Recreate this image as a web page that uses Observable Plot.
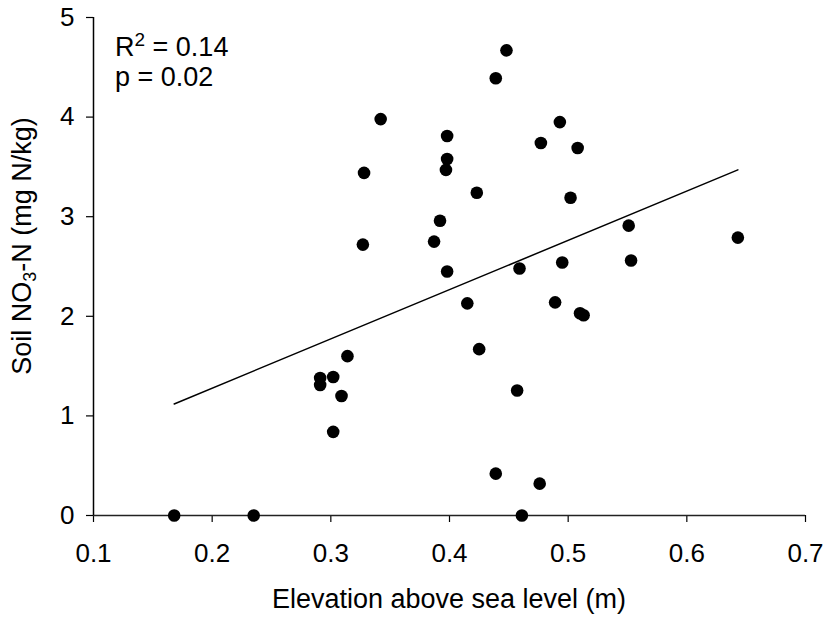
<!DOCTYPE html>
<html>
<head>
<meta charset="utf-8">
<script src="https://cdn.jsdelivr.net/npm/d3@7"></script>
<script src="https://cdn.jsdelivr.net/npm/@observablehq/plot@0.6"></script>
<style>
  html, body { margin: 0; padding: 0; background: #fff; }
  #chart { width: 825px; height: 618px; }
  #chart svg g[aria-label$="tick label"] text { font-size: 26px !important; }
</style>
</head>
<body>
<div id="chart"></div>
<script>
// Elevation above sea level (m)
const elevation = [
  0.168, 0.235, 0.291, 0.291, 0.302, 0.309, 0.302, 0.314,
  0.342, 0.328, 0.327,
  0.448, 0.439, 0.493, 0.398, 0.477, 0.508, 0.398, 0.397,
  0.423, 0.502, 0.392, 0.551, 0.643, 0.387, 0.398, 0.459,
  0.495, 0.553, 0.415, 0.489, 0.510, 0.513,
  0.425, 0.457, 0.439, 0.476, 0.461
];
// Soil NO3-N (mg N/kg)
const nitrate = [
  0.00, 0.00, 1.38, 1.31, 1.39, 1.20, 0.84, 1.60,
  3.98, 3.44, 2.72,
  4.67, 4.39, 3.95, 3.81, 3.74, 3.69, 3.58, 3.47,
  3.24, 3.19, 2.96, 2.91, 2.79, 2.75, 2.45, 2.48,
  2.54, 2.56, 2.13, 2.14, 2.03, 2.01,
  1.67, 1.255, 0.42, 0.32, 0.00
];
// Fitted regression line end points
const fitX = [0.168, 0.643];
const fitY = [1.12, 3.47];

const xTicks = [0.1, 0.2, 0.3, 0.4, 0.5, 0.6, 0.7];
const yTicks = [0, 1, 2, 3, 4, 5];
const xLabel = "Elevation above sea level (m)";
const statR2 = "0.14";
const statP = "0.02";

const points = elevation.map((x, i) => ({x, y: nitrate[i]}));
const fit = fitX.map((x, i) => ({x, y: fitY[i]}));

const font = "'Liberation Sans', Arial, Helvetica, sans-serif";

const chart = Plot.plot({
  width: 825,
  height: 618,
  marginLeft: 93,
  marginRight: 20,
  marginTop: 17,
  marginBottom: 103,
  style: {fontFamily: font, fontSize: "26px", color: "#000", background: "#fff", overflow: "visible"},
  x: {domain: [0.1, 0.7]},
  y: {domain: [0, 5]},
  marks: [
    Plot.axisX({ticks: xTicks, tickSize: 7, tickPadding: 21, tickFormat: d => d.toFixed(1), label: null, fontSize: 26, stroke: "#000", strokeWidth: 1.2}),
    Plot.axisY({ticks: yTicks, tickSize: 7, tickPadding: 12, tickFormat: d => String(d), label: null, fontSize: 26, stroke: "#000", strokeWidth: 1.2}),
    Plot.ruleY([0], {stroke: "#222", strokeWidth: 1.5}),
    Plot.ruleX([0.1], {stroke: "#000", strokeWidth: 1.5}),
    Plot.line(fit, {x: "x", y: "y", stroke: "#000", strokeWidth: 1.5}),
    Plot.dot(points, {x: "x", y: "y", r: 6.3, fill: "#000", stroke: "none"})
  ]
});

const svg = d3.select(chart);
svg.selectAll('g[aria-label$="tick label"]').attr("font-size", 26);
svg.selectAll('g[aria-label$="tick label"] text').style("font-size", "26px");

// x axis label
svg.append("text")
  .attr("x", 449).attr("y", 608)
  .attr("text-anchor", "middle")
  .attr("font-family", font).attr("font-size", 27).attr("fill", "#000")
  .text(xLabel);

// y axis label with subscript
const yl = svg.append("text")
  .attr("transform", "translate(31,246) rotate(-90)")
  .attr("text-anchor", "middle")
  .attr("font-family", font).attr("font-size", 27).attr("fill", "#000");
yl.append("tspan").text("Soil NO");
yl.append("tspan").attr("font-size", 18).attr("dy", 5).text("3");
yl.append("tspan").attr("dy", -5).text("-N (mg N/kg)");

// statistics annotation
const r2 = svg.append("text")
  .attr("x", 115).attr("y", 56)
  .attr("text-anchor", "start")
  .attr("font-family", font).attr("font-size", 27).attr("fill", "#000");
r2.append("tspan").text("R");
r2.append("tspan").attr("font-size", 19).attr("dy", -10).text("2");
r2.append("tspan").attr("dy", 10).text(" = " + statR2);

svg.append("text")
  .attr("x", 115).attr("y", 86)
  .attr("text-anchor", "start")
  .attr("font-family", font).attr("font-size", 27).attr("fill", "#000")
  .text("p = " + statP);

document.getElementById("chart").appendChild(chart);
</script>
</body>
</html>
